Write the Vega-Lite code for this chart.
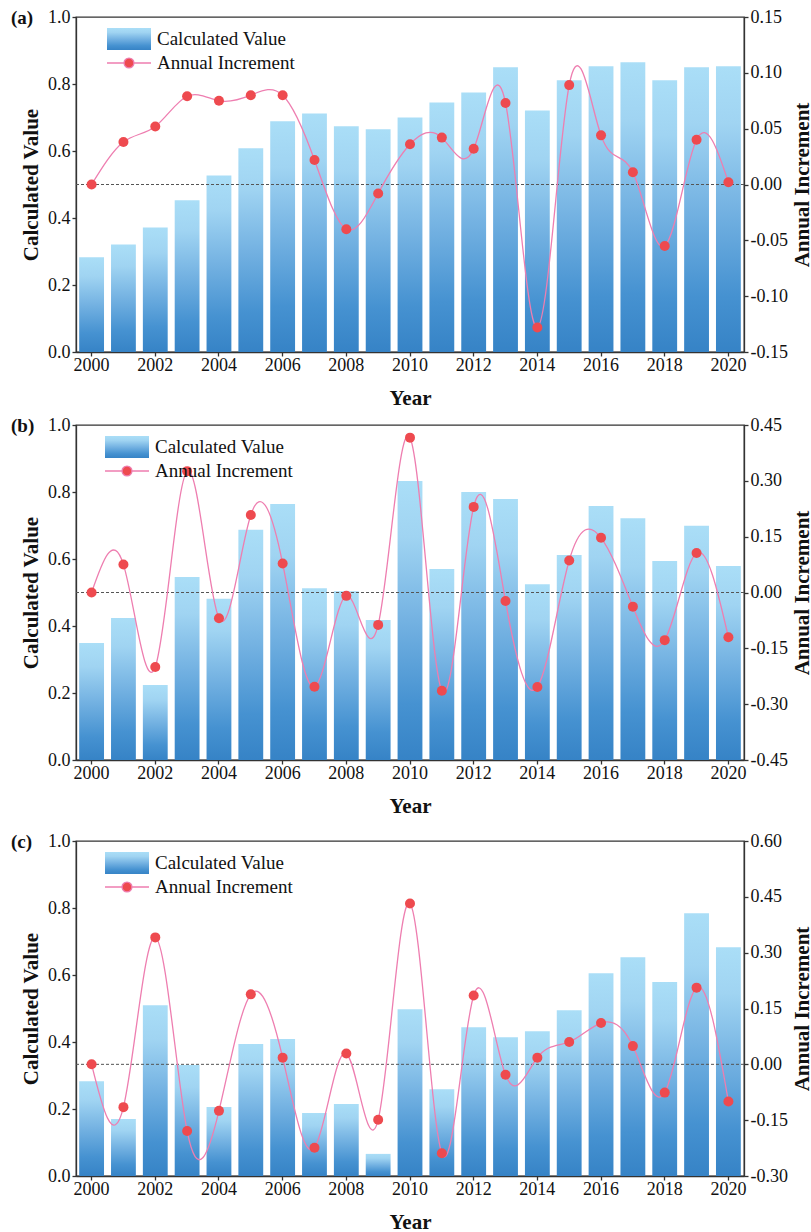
{
  "$schema": "https://vega.github.io/schema/vega-lite/v6.json",
  "background": "white",
  "padding": {"left": 10, "top": 7, "right": 0, "bottom": 0},
  "config": {
    "view": {"stroke": "#333", "strokeWidth": 1.3},
    "style": {"guide-label": {"font": "Liberation Serif", "fontSize": 18, "fill": "#111"}, "guide-title": {"font": "Liberation Serif", "fontWeight": "bold", "fill": "#111"}},
    "axis": {"labelFont": "Liberation Serif", "labelFontSize": 18, "labelColor": "#111", "titleFont": "Liberation Serif", "titleFontSize": 21, "titleFontWeight": "bold", "titleColor": "#111", "domainColor": "#333", "domainWidth": 1.3, "tickColor": "#333", "tickWidth": 1.3, "tickSize": 4, "grid": false, "labelPadding": 2},
    "title": {"font": "Liberation Serif", "fontSize": 19, "fontWeight": "bold", "color": "#111"},
    "legend": {"labelFont": "Liberation Serif", "labelFontSize": 19, "labelColor": "#111", "labelLimit": 400, "padding": 0}
  },
  "datasets": {
    "a": [
      {"year": 2000, "value": 0.283, "increment": 0.000},
      {"year": 2001, "value": 0.321, "increment": 0.038},
      {"year": 2002, "value": 0.372, "increment": 0.052},
      {"year": 2003, "value": 0.453, "increment": 0.079},
      {"year": 2004, "value": 0.527, "increment": 0.075},
      {"year": 2005, "value": 0.608, "increment": 0.080},
      {"year": 2006, "value": 0.689, "increment": 0.080},
      {"year": 2007, "value": 0.712, "increment": 0.022},
      {"year": 2008, "value": 0.674, "increment": -0.040},
      {"year": 2009, "value": 0.665, "increment": -0.008},
      {"year": 2010, "value": 0.700, "increment": 0.036},
      {"year": 2011, "value": 0.745, "increment": 0.042},
      {"year": 2012, "value": 0.775, "increment": 0.032},
      {"year": 2013, "value": 0.850, "increment": 0.073},
      {"year": 2014, "value": 0.721, "increment": -0.128},
      {"year": 2015, "value": 0.811, "increment": 0.089},
      {"year": 2016, "value": 0.853, "increment": 0.044},
      {"year": 2017, "value": 0.865, "increment": 0.011},
      {"year": 2018, "value": 0.811, "increment": -0.055},
      {"year": 2019, "value": 0.850, "increment": 0.040},
      {"year": 2020, "value": 0.853, "increment": 0.002}
    ],
    "b": [
      {"year": 2000, "value": 0.349, "increment": 0.000},
      {"year": 2001, "value": 0.424, "increment": 0.075},
      {"year": 2002, "value": 0.224, "increment": -0.200},
      {"year": 2003, "value": 0.546, "increment": 0.326},
      {"year": 2004, "value": 0.481, "increment": -0.069},
      {"year": 2005, "value": 0.687, "increment": 0.208},
      {"year": 2006, "value": 0.764, "increment": 0.078},
      {"year": 2007, "value": 0.513, "increment": -0.253},
      {"year": 2008, "value": 0.504, "increment": -0.009},
      {"year": 2009, "value": 0.418, "increment": -0.087},
      {"year": 2010, "value": 0.833, "increment": 0.416},
      {"year": 2011, "value": 0.570, "increment": -0.264},
      {"year": 2012, "value": 0.800, "increment": 0.230},
      {"year": 2013, "value": 0.779, "increment": -0.023},
      {"year": 2014, "value": 0.525, "increment": -0.254},
      {"year": 2015, "value": 0.612, "increment": 0.086},
      {"year": 2016, "value": 0.758, "increment": 0.147},
      {"year": 2017, "value": 0.722, "increment": -0.038},
      {"year": 2018, "value": 0.594, "increment": -0.128},
      {"year": 2019, "value": 0.699, "increment": 0.106},
      {"year": 2020, "value": 0.579, "increment": -0.120}
    ],
    "c": [
      {"year": 2000, "value": 0.283, "increment": 0.000},
      {"year": 2001, "value": 0.170, "increment": -0.115},
      {"year": 2002, "value": 0.510, "increment": 0.341},
      {"year": 2003, "value": 0.331, "increment": -0.179},
      {"year": 2004, "value": 0.206, "increment": -0.125},
      {"year": 2005, "value": 0.394, "increment": 0.188},
      {"year": 2006, "value": 0.409, "increment": 0.018},
      {"year": 2007, "value": 0.188, "increment": -0.224},
      {"year": 2008, "value": 0.215, "increment": 0.029},
      {"year": 2009, "value": 0.066, "increment": -0.149},
      {"year": 2010, "value": 0.498, "increment": 0.432},
      {"year": 2011, "value": 0.259, "increment": -0.239},
      {"year": 2012, "value": 0.444, "increment": 0.185},
      {"year": 2013, "value": 0.414, "increment": -0.028},
      {"year": 2014, "value": 0.432, "increment": 0.018},
      {"year": 2015, "value": 0.495, "increment": 0.060},
      {"year": 2016, "value": 0.605, "increment": 0.111},
      {"year": 2017, "value": 0.653, "increment": 0.049},
      {"year": 2018, "value": 0.579, "increment": -0.076},
      {"year": 2019, "value": 0.784, "increment": 0.206},
      {"year": 2020, "value": 0.683, "increment": -0.100}
    ],
    "zero": [{"ref": 0}]
  },
  "spacing": 14,
  "vconcat": [
    {
      "spacing": 6,
      "vconcat": [
        {
          "width": 668, "height": 335,
          "title": {"text": "(a)", "anchor": "start", "frame": "group", "dx": -65, "dy": 24},
          "data": {"name": "a"},
          "layer": [
            {
              "mark": {"type": "bar", "strokeWidth": 0, "fill": {"gradient": "linear", "x1": 0, "y1": 0, "x2": 0, "y2": 1, "stops": [{"offset": 0, "color": "#aadef7"}, {"offset": 0.2, "color": "#a0d4f2"}, {"offset": 0.5, "color": "#74b2e2"}, {"offset": 0.8, "color": "#4692d1"}, {"offset": 1, "color": "#3683c6"}]}},
              "encoding": {
                "x": {"field": "year", "type": "ordinal", "scale": {"paddingInner": 0.22, "paddingOuter": 0.1}, "axis": {"values": [2000, 2002, 2004, 2006, 2008, 2010, 2012, 2014, 2016, 2018, 2020], "labelAngle": 0, "labelFont": "Liberation Serif", "labelPadding": 0, "title": "Year", "titlePadding": 13}},
                "y": {"field": "value", "type": "quantitative", "scale": {"domain": [0, 1], "nice": false}, "axis": {"title": "Calculated Value", "labelFont": "Liberation Serif", "values": [0, 0.2, 0.4, 0.6, 0.8, 1], "format": ".1f", "titlePadding": 6}},
                "stroke": {"datum": "Calculated Value", "type": "nominal", "scale": {"domain": ["Calculated Value"], "range": ["transparent"]},
                  "legend": {"orient": "none", "legendX": 30, "legendY": 10, "title": null, "symbolType": "M-1,-1H3V1H-1Z", "symbolSize": 484, "labelOffset": 27}}
              }
            },
            {
              "layer": [
                {
                  "data": {"name": "zero"},
                  "mark": {"type": "rule", "color": "#555", "strokeDash": [3, 2], "strokeWidth": 1},
                  "encoding": {"y": {"field": "ref", "type": "quantitative", "scale": {"domain": [-0.15, 0.15], "nice": false}, "axis": {"orient": "right", "title": "Annual Increment", "titleAngle": 270, "titleBaseline": "top", "labelFont": "Liberation Serif", "values": [-0.15, -0.1, -0.05, 0, 0.05, 0.1, 0.15], "labelExpr": "(datum.value < -0.0001 ? '-' : '') + format(abs(datum.value), '.2f')"}}}
                },
                {
                  "mark": {"type": "line", "interpolate": "natural", "strokeWidth": 1.3},
                  "encoding": {
                    "x": {"field": "year", "type": "ordinal"},
                    "y": {"field": "increment", "type": "quantitative", "title": "Annual Increment"},
                    "stroke": {"datum": "Annual Increment", "type": "nominal", "scale": {"domain": ["Annual Increment"], "range": ["#ee7eb0"]},
                      "legend": {"orient": "none", "legendX": 30, "legendY": 34, "title": null, "symbolType": "M-1,0H0.55M1.45,0H3M0.55,0A0.45,0.45 0 1,0 1.45,0A0.45,0.45 0 1,0 0.55,0Z", "symbolSize": 484, "symbolFillColor": "#ee4a4f", "symbolStrokeWidth": 1.3, "labelOffset": 27}}
                  }
                },
                {
                  "mark": {"type": "point", "filled": true, "fill": "#ee4a4f", "opacity": 1, "size": 100, "strokeWidth": 0},
                  "encoding": {
                    "x": {"field": "year", "type": "ordinal"},
                    "y": {"field": "increment", "type": "quantitative", "title": "Annual Increment"}
                  }
                }
              ]
            }
          ],
          "resolve": {"scale": {"y": "independent", "stroke": "independent"}}
        },
        {
          "width": 668, "height": 335,
          "title": {"text": "(b)", "anchor": "start", "frame": "group", "dx": -65, "dy": 24},
          "data": {"name": "b"},
          "layer": [
            {
              "mark": {"type": "bar", "strokeWidth": 0, "fill": {"gradient": "linear", "x1": 0, "y1": 0, "x2": 0, "y2": 1, "stops": [{"offset": 0, "color": "#aadef7"}, {"offset": 0.2, "color": "#a0d4f2"}, {"offset": 0.5, "color": "#74b2e2"}, {"offset": 0.8, "color": "#4692d1"}, {"offset": 1, "color": "#3683c6"}]}},
              "encoding": {
                "x": {"field": "year", "type": "ordinal", "scale": {"paddingInner": 0.22, "paddingOuter": 0.1}, "axis": {"values": [2000, 2002, 2004, 2006, 2008, 2010, 2012, 2014, 2016, 2018, 2020], "labelAngle": 0, "labelFont": "Liberation Serif", "labelPadding": 0, "title": "Year", "titlePadding": 13}},
                "y": {"field": "value", "type": "quantitative", "scale": {"domain": [0, 1], "nice": false}, "axis": {"title": "Calculated Value", "labelFont": "Liberation Serif", "values": [0, 0.2, 0.4, 0.6, 0.8, 1], "format": ".1f", "titlePadding": 6}},
                "stroke": {"datum": "Calculated Value", "type": "nominal", "scale": {"domain": ["Calculated Value"], "range": ["transparent"]},
                  "legend": {"orient": "none", "legendX": 28, "legendY": 10, "title": null, "symbolType": "M-1,-1H3V1H-1Z", "symbolSize": 484, "labelOffset": 27}}
              }
            },
            {
              "layer": [
                {
                  "data": {"name": "zero"},
                  "mark": {"type": "rule", "color": "#555", "strokeDash": [3, 2], "strokeWidth": 1},
                  "encoding": {"y": {"field": "ref", "type": "quantitative", "scale": {"domain": [-0.45, 0.45], "nice": false}, "axis": {"orient": "right", "title": "Annual Increment", "titleAngle": 270, "titleBaseline": "top", "labelFont": "Liberation Serif", "values": [-0.45, -0.3, -0.15, 0, 0.15, 0.3, 0.45], "labelExpr": "(datum.value < -0.0001 ? '-' : '') + format(abs(datum.value), '.2f')"}}}
                },
                {
                  "mark": {"type": "line", "interpolate": "natural", "strokeWidth": 1.3},
                  "encoding": {
                    "x": {"field": "year", "type": "ordinal"},
                    "y": {"field": "increment", "type": "quantitative", "title": "Annual Increment"},
                    "stroke": {"datum": "Annual Increment", "type": "nominal", "scale": {"domain": ["Annual Increment"], "range": ["#ee7eb0"]},
                      "legend": {"orient": "none", "legendX": 28, "legendY": 34, "title": null, "symbolType": "M-1,0H0.55M1.45,0H3M0.55,0A0.45,0.45 0 1,0 1.45,0A0.45,0.45 0 1,0 0.55,0Z", "symbolSize": 484, "symbolFillColor": "#ee4a4f", "symbolStrokeWidth": 1.3, "labelOffset": 27}}
                  }
                },
                {
                  "mark": {"type": "point", "filled": true, "fill": "#ee4a4f", "opacity": 1, "size": 100, "strokeWidth": 0},
                  "encoding": {
                    "x": {"field": "year", "type": "ordinal"},
                    "y": {"field": "increment", "type": "quantitative", "title": "Annual Increment"}
                  }
                }
              ]
            }
          ],
          "resolve": {"scale": {"y": "independent", "stroke": "independent"}}
        }
      ]
    },
    {
      "width": 668, "height": 335,
      "title": {"text": "(c)", "anchor": "start", "frame": "group", "dx": -65, "dy": 24},
      "data": {"name": "c"},
      "layer": [
        {
          "mark": {"type": "bar", "strokeWidth": 0, "fill": {"gradient": "linear", "x1": 0, "y1": 0, "x2": 0, "y2": 1, "stops": [{"offset": 0, "color": "#aadef7"}, {"offset": 0.2, "color": "#a0d4f2"}, {"offset": 0.5, "color": "#74b2e2"}, {"offset": 0.8, "color": "#4692d1"}, {"offset": 1, "color": "#3683c6"}]}},
          "encoding": {
            "x": {"field": "year", "type": "ordinal", "scale": {"paddingInner": 0.22, "paddingOuter": 0.1}, "axis": {"values": [2000, 2002, 2004, 2006, 2008, 2010, 2012, 2014, 2016, 2018, 2020], "labelAngle": 0, "labelFont": "Liberation Serif", "labelPadding": 0, "title": "Year", "titlePadding": 13}},
            "y": {"field": "value", "type": "quantitative", "scale": {"domain": [0, 1], "nice": false}, "axis": {"title": "Calculated Value", "labelFont": "Liberation Serif", "values": [0, 0.2, 0.4, 0.6, 0.8, 1], "format": ".1f", "titlePadding": 6}},
            "stroke": {"datum": "Calculated Value", "type": "nominal", "scale": {"domain": ["Calculated Value"], "range": ["transparent"]},
              "legend": {"orient": "none", "legendX": 28, "legendY": 10, "title": null, "symbolType": "M-1,-1H3V1H-1Z", "symbolSize": 484, "labelOffset": 27}}
          }
        },
        {
          "layer": [
            {
              "data": {"name": "zero"},
              "mark": {"type": "rule", "color": "#555", "strokeDash": [3, 2], "strokeWidth": 1},
              "encoding": {"y": {"field": "ref", "type": "quantitative", "scale": {"domain": [-0.3, 0.6], "nice": false}, "axis": {"orient": "right", "title": "Annual Increment", "titleAngle": 270, "titleBaseline": "top", "labelFont": "Liberation Serif", "values": [-0.3, -0.15, 0, 0.15, 0.3, 0.45, 0.6], "labelExpr": "(datum.value < -0.0001 ? '-' : '') + format(abs(datum.value), '.2f')"}}}
            },
            {
              "mark": {"type": "line", "interpolate": "natural", "strokeWidth": 1.3},
              "encoding": {
                "x": {"field": "year", "type": "ordinal"},
                "y": {"field": "increment", "type": "quantitative", "title": "Annual Increment"},
                "stroke": {"datum": "Annual Increment", "type": "nominal", "scale": {"domain": ["Annual Increment"], "range": ["#ee7eb0"]},
                  "legend": {"orient": "none", "legendX": 28, "legendY": 34, "title": null, "symbolType": "M-1,0H0.55M1.45,0H3M0.55,0A0.45,0.45 0 1,0 1.45,0A0.45,0.45 0 1,0 0.55,0Z", "symbolSize": 484, "symbolFillColor": "#ee4a4f", "symbolStrokeWidth": 1.3, "labelOffset": 27}}
              }
            },
            {
              "mark": {"type": "point", "filled": true, "fill": "#ee4a4f", "opacity": 1, "size": 100, "strokeWidth": 0},
              "encoding": {
                "x": {"field": "year", "type": "ordinal"},
                "y": {"field": "increment", "type": "quantitative", "title": "Annual Increment"}
              }
            }
          ]
        }
      ],
      "resolve": {"scale": {"y": "independent", "stroke": "independent"}}
    }
  ]
}
